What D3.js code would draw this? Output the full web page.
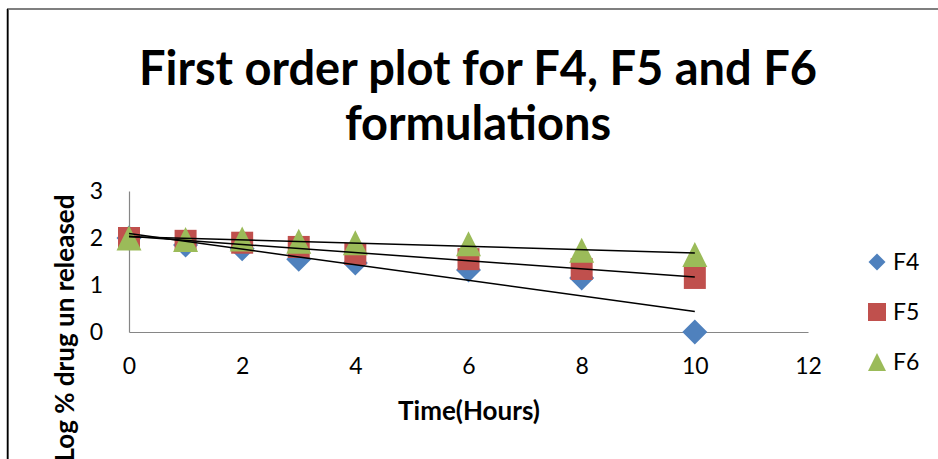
<!DOCTYPE html>
<html>
<head>
<meta charset="utf-8">
<script src="https://cdn.jsdelivr.net/npm/d3@7"></script>
<style>
  body { margin: 0; background: #fff; overflow: hidden; }
  svg { display: block; }
  text { font-family: 'Lato', 'Open Sans', sans-serif; fill: #000; }
</style>
</head>
<body>
<div id="chart"></div>
<script>
const width = 938;
const height = 459;

// data
const time = [0, 1, 2, 3, 4, 6, 8, 10];
const f4 = [2.00, 1.85, 1.77, 1.55, 1.47, 1.32, 1.15, 0];
const f5 = [2.00, 1.94, 1.90, 1.81, 1.66, 1.55, 1.34, 1.15];
const f6 = [2.00, 1.97, 1.98, 1.93, 1.90, 1.88, 1.74, 1.65];
const seriesNames = ['F4', 'F5', 'F6'];
const xTicks = [0, 2, 4, 6, 8, 10, 12];
const yTicks = [0, 1, 2, 3];
const titleLines = ['First order plot for F4, F5 and F6', 'formulations'];

const colors = { F4: '#4F81BD', F5: '#C0504D', F6: '#9BBB59' };

// custom marker shapes (size = width of the marker)
const diamond = {
  draw(ctx, s) {
    const r = s / 2;
    ctx.moveTo(0, -r); ctx.lineTo(r, 0); ctx.lineTo(0, r); ctx.lineTo(-r, 0); ctx.closePath();
  }
};
const square = {
  draw(ctx, s) {
    const r = s / 2;
    ctx.rect(-r, -r, s, s);
  }
};
const triangle = {
  draw(ctx, s) {
    const r = s / 2;
    ctx.moveTo(0, -r); ctx.lineTo(r, r); ctx.lineTo(-r, r); ctx.closePath();
  }
};
const shapes = { F4: diamond, F5: square, F6: triangle };
const markerSize = { F4: 25, F5: 22, F6: 25 };
const legendSize = { F4: 17, F5: 18, F6: 18 };

const series = [
  { name: 'F4', values: f4 },
  { name: 'F5', values: f5 },
  { name: 'F6', values: f6 }
];

const svg = d3.select('#chart')
  .append('svg')
  .attr('width', width)
  .attr('height', height);

// chart frame
svg.append('rect')
  .attr('x', 8).attr('y', 9)
  .attr('width', 960).attr('height', 500)
  .attr('fill', '#fff')
  .attr('stroke', '#7f7f7f')
  .attr('stroke-width', 2);
svg.append('line')
  .attr('x1', 7.5).attr('x2', 7.5).attr('y1', 9).attr('y2', height)
  .attr('stroke', '#000').attr('stroke-width', 1.5);

// title
svg.append('text')
  .attr('text-anchor', 'middle')
  .style('font-weight', 'bold')
  .style('font-size', '47px')
  .selectAll('tspan')
  .data(titleLines)
  .join('tspan')
  .attr('x', 478)
  .attr('y', (d, i) => 85 + i * 55)
  .text(d => d);

const x = d3.scaleLinear().domain([0, 12]).range([129, 808]);
const y = d3.scaleLinear().domain([0, 3]).range([332, 191]);

// axes
const xAxis = svg.append('g')
  .attr('transform', `translate(0,${y(0)})`)
  .call(d3.axisBottom(x).tickValues(xTicks).tickSize(0).tickPadding(26));
const yAxis = svg.append('g')
  .attr('transform', `translate(${x(0)},0)`)
  .call(d3.axisLeft(y).tickValues(yTicks).tickFormat(d3.format('d')).tickSize(0).tickPadding(26));

[xAxis, yAxis].forEach(g => {
  g.select('.domain').attr('stroke', '#868686').attr('stroke-width', 1.2);
  g.selectAll('text')
    .style('font-family', "'Lato', 'Open Sans', sans-serif")
    .style('font-size', '23px')
    .attr('fill', '#000');
});

// axis titles
svg.append('text')
  .attr('x', 469)
  .attr('y', 420)
  .attr('text-anchor', 'middle')
  .style('font-weight', 'bold')
  .style('font-size', '26px')
  .text('Time(Hours)');

svg.append('text')
  .attr('transform', `translate(74,328) rotate(-90)`)
  .attr('text-anchor', 'middle')
  .style('font-weight', 'bold')
  .style('font-size', '26px')
  .text('Log % drug un released');

// markers
series.forEach(s => {
  svg.append('g')
    .selectAll('path')
    .data(s.values.map((v, i) => [time[i], v]))
    .join('path')
    .attr('transform', d => `translate(${x(d[0])},${y(d[1])})`)
    .attr('d', d3.symbol().type(shapes[s.name]).size(markerSize[s.name]))
    .attr('fill', colors[s.name]);
});

// linear trendlines (least squares)
function fit(xs, ys) {
  const mx = d3.mean(xs), my = d3.mean(ys);
  const sxy = d3.sum(xs, (v, i) => (v - mx) * (ys[i] - my));
  const sxx = d3.sum(xs, v => (v - mx) * (v - mx));
  const slope = sxy / sxx;
  return { slope, intercept: my - slope * mx };
}

series.forEach(s => {
  const f = fit(time, s.values);
  const t0 = d3.min(time), t1 = d3.max(time);
  svg.append('line')
    .attr('x1', x(t0)).attr('y1', y(f.intercept + f.slope * t0))
    .attr('x2', x(t1)).attr('y2', y(f.intercept + f.slope * t1))
    .attr('stroke', '#000')
    .attr('stroke-width', 1.5);
});

// legend
const legend = svg.append('g')
  .selectAll('g')
  .data(seriesNames)
  .join('g')
  .attr('transform', (d, i) => `translate(877,${262 + i * 50})`);

legend.append('path')
  .attr('d', d => d3.symbol().type(shapes[d]).size(legendSize[d])())
  .attr('fill', d => colors[d]);

legend.append('text')
  .attr('x', 16)
  .attr('dy', '0.36em')
  .style('font-size', '23px')
  .text(d => d);
</script>
</body>
</html>
